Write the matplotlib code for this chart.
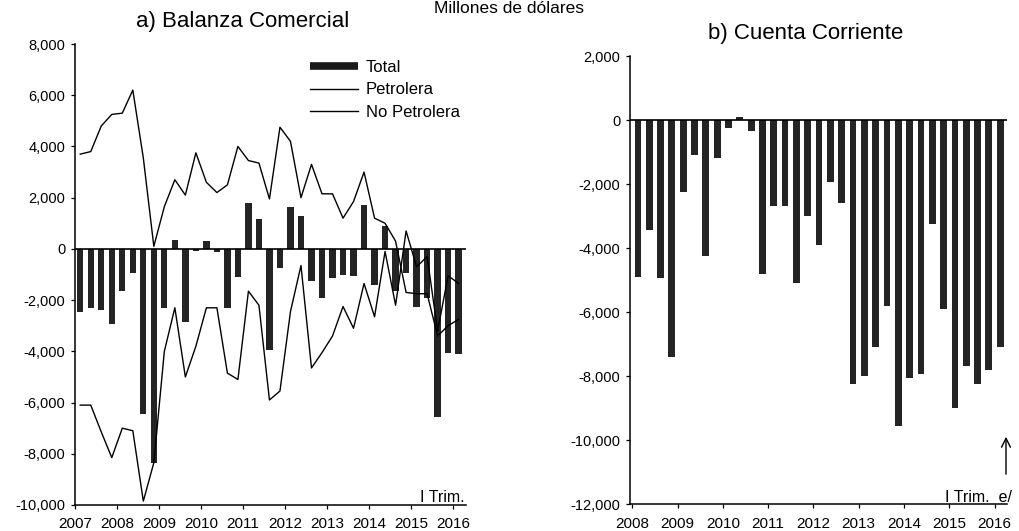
import matplotlib
matplotlib.use('Agg')
import matplotlib.pyplot as plt
from matplotlib.lines import Line2D
from matplotlib.ticker import FuncFormatter, FixedLocator

plt.rcParams['font.family'] = ['Liberation Sans', 'DejaVu Sans']
plt.rcParams['axes.unicode_minus'] = False

# ---------------- data ----------------
years_bc = ['2007', '2008', '2009', '2010', '2011', '2012', '2013', '2014', '2015', '2016']
years_cc = ['2008', '2009', '2010', '2011', '2012', '2013', '2014', '2015', '2016']

# a) Balanza Comercial, quarterly 2007 Q1 - 2016 Q1 (millones de dólares)
total_bc = [-2450, -2300, -2400, -2950,
            -1650, -950, -6450, -8350,
            -2300, 350, -2850, -100,
            300, -130, -2300, -1100,
            1800, 1150, -3950, -750,
            1650, 1300, -1250, -1900,
            -1150, -1000, -1050, 1700,
            -1400, 900, -1650, -950,
            -2250, -1900, -6550, -4050,
            -4100]
petrolera = [3700, 3800, 4800, 5250,
             5300, 6200, 3550, 100,
             1650, 2700, 2100, 3750,
             2600, 2200, 2500, 4000,
             3450, 3350, 1950, 4750,
             4200, 2000, 3300, 2150,
             2150, 1200, 1850, 3000,
             1200, 1000, 300, -1700,
             -1750, -1750, -3400, -3000,
             -2750]
no_petrolera = [-6100, -6100, -7150, -8150,
                -7000, -7100, -9850, -8350,
                -4000, -2300, -5000, -3800,
                -2300, -2300, -4850, -5100,
                -1650, -2200, -5900, -5550,
                -2450, -650, -4650, -4050,
                -3400, -2250, -3100, -1350,
                -2650, -100, -2200, 700,
                -700, -300, -3200, -1050,
                -1350]

# b) Cuenta Corriente, quarterly 2008 Q1 - 2016 Q1
cuenta_corriente = [-4900, -3450, -4950, -7400,
                    -2250, -1100, -4250, -1200,
                    -250, 80, -350, -4800,
                    -2700, -2700, -5100, -3000,
                    -3900, -1950, -2600, -8250,
                    -8000, -7100, -5800, -9550,
                    -8050, -7950, -3250, -5900,
                    -9000, -7700, -8250, -7800,
                    -7100]

# ---------------- figure ----------------
W, H = 1019, 531
fig = plt.figure(figsize=(W / 100, H / 100), dpi=100)


def box(x0, y0, x1, y1):
    return [x0 / W, 1 - y1 / H, (x1 - x0) / W, (y1 - y0) / H]


bar_color = '#242424'
fmt = FuncFormatter(lambda v, p: f'{int(v):,}')


def style_axes(ax):
    for s in ['top', 'right']:
        ax.spines[s].set_visible(False)
    for s in ['left', 'bottom']:
        ax.spines[s].set_linewidth(1.1)
    ax.yaxis.set_major_formatter(fmt)
    ax.tick_params(axis='y', direction='out', length=3, width=0.9, pad=4, labelsize=10.5)
    ax.tick_params(axis='x', direction='out', length=3, width=0.9, pad=6, labelsize=11)
    ax.set_facecolor('none')


# ---- panel a ----
ax1 = fig.add_axes(box(75, 44, 466, 505))
x1 = list(range(len(total_bc)))
ax1.bar(x1, total_bc, width=0.6, color=bar_color, zorder=2)
ax1.axhline(0, color='black', lw=1.2, zorder=3)
ax1.plot(x1, petrolera, color='black', lw=1.0, zorder=4)
ax1.plot(x1, no_petrolera, color='black', lw=1.0, zorder=4)
ax1.set_ylim(-10000, 8000)
ax1.set_xlim(-0.5, 36.7)
ax1.yaxis.set_major_locator(FixedLocator(list(range(-10000, 8001, 2000))))
ax1.set_xticks([4 * j - 0.5 for j in range(len(years_bc))])
ax1.set_xticklabels(years_bc)
style_axes(ax1)

handles = [Line2D([], [], color='#1a1a1a', lw=5.5, solid_capstyle='butt'),
           Line2D([], [], color='black', lw=1.0),
           Line2D([], [], color='black', lw=1.0)]
ax1.legend(handles, ['Total', 'Petrolera', 'No Petrolera'],
           loc='upper left', bbox_to_anchor=(310 / W, 1 - 60 / H),
           bbox_transform=fig.transFigure, frameon=False, fontsize=12,
           borderpad=0, borderaxespad=0, handlelength=2.9, handletextpad=0.45,
           labelspacing=0.45)

# ---- panel b ----
ax2 = fig.add_axes(box(630, 56, 1007, 504))
x2 = list(range(len(cuenta_corriente)))
ax2.bar(x2, cuenta_corriente, width=0.6, color=bar_color, zorder=2)
ax2.axhline(0, color='black', lw=1.2, zorder=3)
ax2.set_ylim(-12000, 2000)
ax2.set_xlim(-0.7, 32.6)
ax2.yaxis.set_major_locator(FixedLocator(list(range(-12000, 2001, 2000))))
ax2.set_xticks([4 * j - 0.5 for j in range(len(years_cc))])
ax2.set_xticklabels(years_cc)
style_axes(ax2)

# ---- texts ----
fig.text(509 / W, 1 - 1 / H, 'Millones de dólares', ha='center', va='top', fontsize=12.5)
fig.text(243 / W, 1 - 21 / H, 'a) Balanza Comercial', ha='center', va='center', fontsize=16)
fig.text(806 / W, 1 - 34 / H, 'b) Cuenta Corriente', ha='center', va='center', fontsize=16)
fig.text(465 / W, 1 - 502 / H, 'I Trim.', ha='right', va='baseline', fontsize=11.5)
fig.text(1012 / W, 1 - 502 / H, 'I Trim.  e/', ha='right', va='baseline', fontsize=11.5)
fig.add_artist(matplotlib.patches.FancyArrowPatch(
    (1006 / W, 1 - 477 / H), (1006 / W, 1 - 434 / H),
    transform=fig.transFigure, arrowstyle='->', mutation_scale=16,
    lw=1.0, color='black'))

fig.savefig('out.png', dpi=100)
